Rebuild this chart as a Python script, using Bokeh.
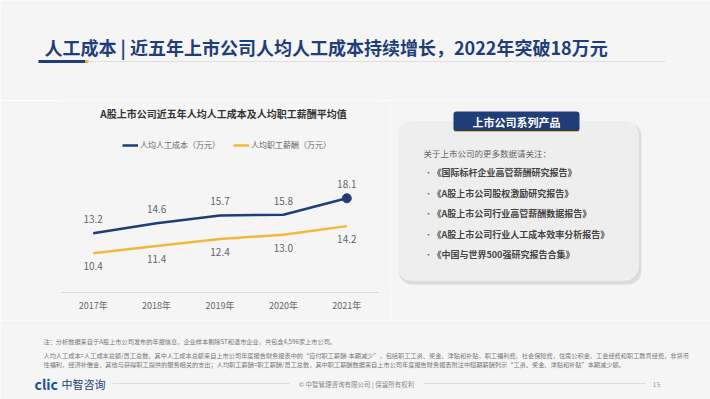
from bokeh.plotting import figure
from bokeh.models import (Range1d, FactorRange, ColumnDataSource, Label,
                          BoxAnnotation, Legend, LegendItem)
from bokeh.layouts import column, row
from bokeh.embed import file_html
from bokeh.resources import INLINE
from bokeh.core.properties import value

# ---------------- data ----------------
years = ["2017年", "2018年", "2019年", "2020年", "2021年"]
labor_cost = [13.2, 14.6, 15.7, 15.8, 18.1]
salary = [10.4, 11.4, 12.4, 13.0, 14.2]
series_names = ["人均人工成本（万元）", "人均职工薪酬（万元）"]

page_title = "人工成本 | 近五年上市公司人均人工成本持续增长，2022年突破18万元"
chart_title = "A股上市公司近五年人均人工成本及人均职工薪酬平均值"
box_title = "上市公司系列产品"
box_intro = "关于上市公司的更多数据请关注："
products = [
    "《国际标杆企业高管薪酬研究报告》",
    "《A股上市公司股权激励研究报告》",
    "《A股上市公司行业高管薪酬数据报告》",
    "《A股上市公司行业人工成本效率分析报告》",
    "《中国与世界500强研究报告合集》",
]
notes = [
    "注：分析数据来自于A股上市公司发布的年报信息，企业样本剔除ST和退市企业，共包含4,596家上市公司。",
    "人均人工成本=人工成本总额/员工总数，其中人工成本总额来自上市公司年度报告财务报表中的“应付职工薪酬-本期减少”，包括职工工资、奖金、津贴和补贴，职工福利费，社会保险费，住房公积金，工会经费和职工教育经费，非货币",
    "性福利，经济补偿金，其他与获得职工提供的服务相关的支出；人均职工薪酬=职工薪酬/员工总数，其中职工薪酬数据来自上市公司年度报告财务报表附注中短期薪酬列示“工资、奖金、津贴和补贴”本期减少额。",
]
footer_text = "© 中智管理咨询有限公司 | 保留所有权利"
page_no = "15"

# ---------------- style ----------------
FONT = "Noto Sans CJK SC"
BG = "#f5f5f5"
NAVY = "#1f3d78"
GOLD = "#f2b83c"


def canvas(w, h, frame_h=None, bottom=0):
    fh = h - bottom if frame_h is None else frame_h
    p = figure(width=w, height=h, x_range=Range1d(0, w), y_range=Range1d(fh, 0),
               output_backend="svg", toolbar_location=None,
               x_axis_location=None, y_axis_location=None,
               min_border_left=0, min_border_right=0, min_border_top=0, min_border_bottom=bottom)
    p.grid.visible = False
    p.outline_line_color = None
    p.background_fill_color = BG
    p.border_fill_color = BG
    return p


# ---------------- header ----------------
top = canvas(710, 100)
top.text(x=[44], y=[46], text=[page_title], text_font=value(FONT), text_font_size="18px",
         text_font_style="bold", text_color=NAVY, text_baseline="middle")
top.segment(x0=[88], y0=[61], x1=[665], y1=[61], line_color="#e0e0e0", line_width=1)
top.segment(x0=[38], y0=[61], x1=[85], y1=[61], line_color=NAVY, line_width=3)
top.segment(x0=[85], y0=[61], x1=[88], y1=[61], line_color=GOLD, line_width=3)

# ---------------- line chart ----------------
src = ColumnDataSource(dict(
    year=years, cost=labor_cost, sal=salary,
    cost_lbl=[f"{v:.1f}" for v in labor_cost],
    sal_lbl=[f"{v:.1f}" for v in salary],
))

c = figure(width=390, height=220, x_range=FactorRange(factors=years),
           y_range=Range1d(4.9, 31.8), output_backend="svg", toolbar_location=None,
           y_axis_location=None,
           min_border_left=61, min_border_right=12, min_border_top=0, min_border_bottom=28)
c.grid.visible = False
c.outline_line_color = None
c.background_fill_color = BG
c.border_fill_color = BG

l1 = c.line("year", "cost", source=src, line_color=NAVY, line_width=2.5)
l2 = c.line("year", "sal", source=src, line_color=GOLD, line_width=2.5)
c.scatter(x=[years[-1]], y=[labor_cost[-1]], size=9, fill_color=NAVY, line_color=NAVY)
leg_dot1 = c.scatter(x=[], y=[], size=6, fill_color=NAVY, line_color=NAVY)
leg_dot2 = c.scatter(x=[], y=[], size=5, fill_color=GOLD, line_color=GOLD)

c.text("year", "cost", text="cost_lbl", source=src, y_offset=-14, text_align="center",
       text_baseline="middle", text_font=value(FONT), text_font_size="10px", text_color="#666666")
c.text("year", "sal", text="sal_lbl", source=src, y_offset=13, text_align="center",
       text_baseline="middle", text_font=value(FONT), text_font_size="10px", text_color="#666666")

ax = c.xaxis[0]
ax.axis_line_color = "#dcdcdc"
ax.major_tick_line_color = None
ax.minor_tick_line_color = None
ax.major_tick_in = 0
ax.major_tick_out = 0
ax.minor_tick_in = 0
ax.minor_tick_out = 0
ax.major_label_standoff = 6
ax.major_label_text_font = FONT
ax.major_label_text_font_size = "9px"
ax.major_label_text_color = "#666666"

c.add_layout(Label(x=162, y=179, x_units="screen", y_units="screen", text=chart_title,
                   text_align="center", text_baseline="middle", text_font=FONT,
                   text_font_size="10px", text_font_style="bold", text_color="#333333"))

legend = Legend(items=[LegendItem(label=series_names[0], renderers=[l1, leg_dot1]),
                       LegendItem(label=series_names[1], renderers=[l2, leg_dot2])],
                orientation="horizontal", location=(61, 142), padding=0, margin=0,
                spacing=13, glyph_width=16, glyph_height=10, label_standoff=2,
                label_text_font=FONT, label_text_font_size="8px", label_text_color="#666666",
                background_fill_alpha=0, border_line_alpha=0)
c.add_layout(legend)

# ---------------- product box ----------------
b = canvas(320, 220, bottom=28)
b.add_layout(BoxAnnotation(left=8, right=251, top=22, bottom=184, border_radius=14,
                           fill_color="#d2d2d2", fill_alpha=0.7, line_color=None, level="underlay"))
b.add_layout(BoxAnnotation(left=7, right=248, top=20, bottom=180, border_radius=14,
                           fill_color="#eeeeee", fill_alpha=1, line_color="#ffffff", line_width=1,
                           level="underlay"))
b.add_layout(BoxAnnotation(left=63, right=189, top=11, bottom=31, border_radius=3,
                           fill_color=NAVY, fill_alpha=1, line_color=None, level="underlay"))
b.segment(x0=[64], y0=[31], x1=[188], y1=[31], line_color=GOLD, line_width=1)
b.text(x=[126], y=[21.5], text=[box_title], text_align="center", text_baseline="middle",
       text_font=value(FONT), text_font_size="11px", text_font_style="bold", text_color="white")
b.text(x=[33], y=[52], text=[box_intro], text_baseline="middle",
       text_font=value(FONT), text_font_size="8.5px", text_color="#666666")
ys = [72 + i * 20.5 for i in range(len(products))]
b.text(x=[34] * len(products), y=ys, text=["•"] * len(products), text_baseline="middle",
       text_font=value(FONT), text_font_size="8px", text_color="#666666")
b.text(x=[42] * len(products), y=ys, text=products, text_baseline="middle",
       text_font=value(FONT), text_font_size="9px", text_font_style="bold", text_color="#444444")

# ---------------- footnotes / footer ----------------
f = canvas(710, 79)
f.text(x=[43] * 3, y=[21, 35, 44], text=notes, text_baseline="middle",
       text_font=value(FONT), text_font_size="6.2px", text_color="#777777")
f.text(x=[34], y=[63], text=["clic"], text_baseline="middle", text_font=value(FONT),
       text_font_size="14px", text_font_style="bold", text_color="#1d4f9e")
f.text(x=[61], y=[63], text=["中智咨询"], text_baseline="middle", text_font=value(FONT),
       text_font_size="11px", text_color=NAVY)
f.segment(x0=[112, 423], y0=[63, 63], x1=[289, 645], y1=[63, 63], line_color="#dddddd", line_width=1)
f.text(x=[356], y=[63], text=[footer_text], text_align="center", text_baseline="middle",
       text_font=value(FONT), text_font_size="6.5px", text_color="#888888")
f.text(x=[656], y=[63], text=[page_no], text_align="center", text_baseline="middle",
       text_font=value(FONT), text_font_size="7px", text_color="#999999")

layout = column(top, row(c, b), f)
open("out.html", "w").write(file_html(layout, INLINE))
